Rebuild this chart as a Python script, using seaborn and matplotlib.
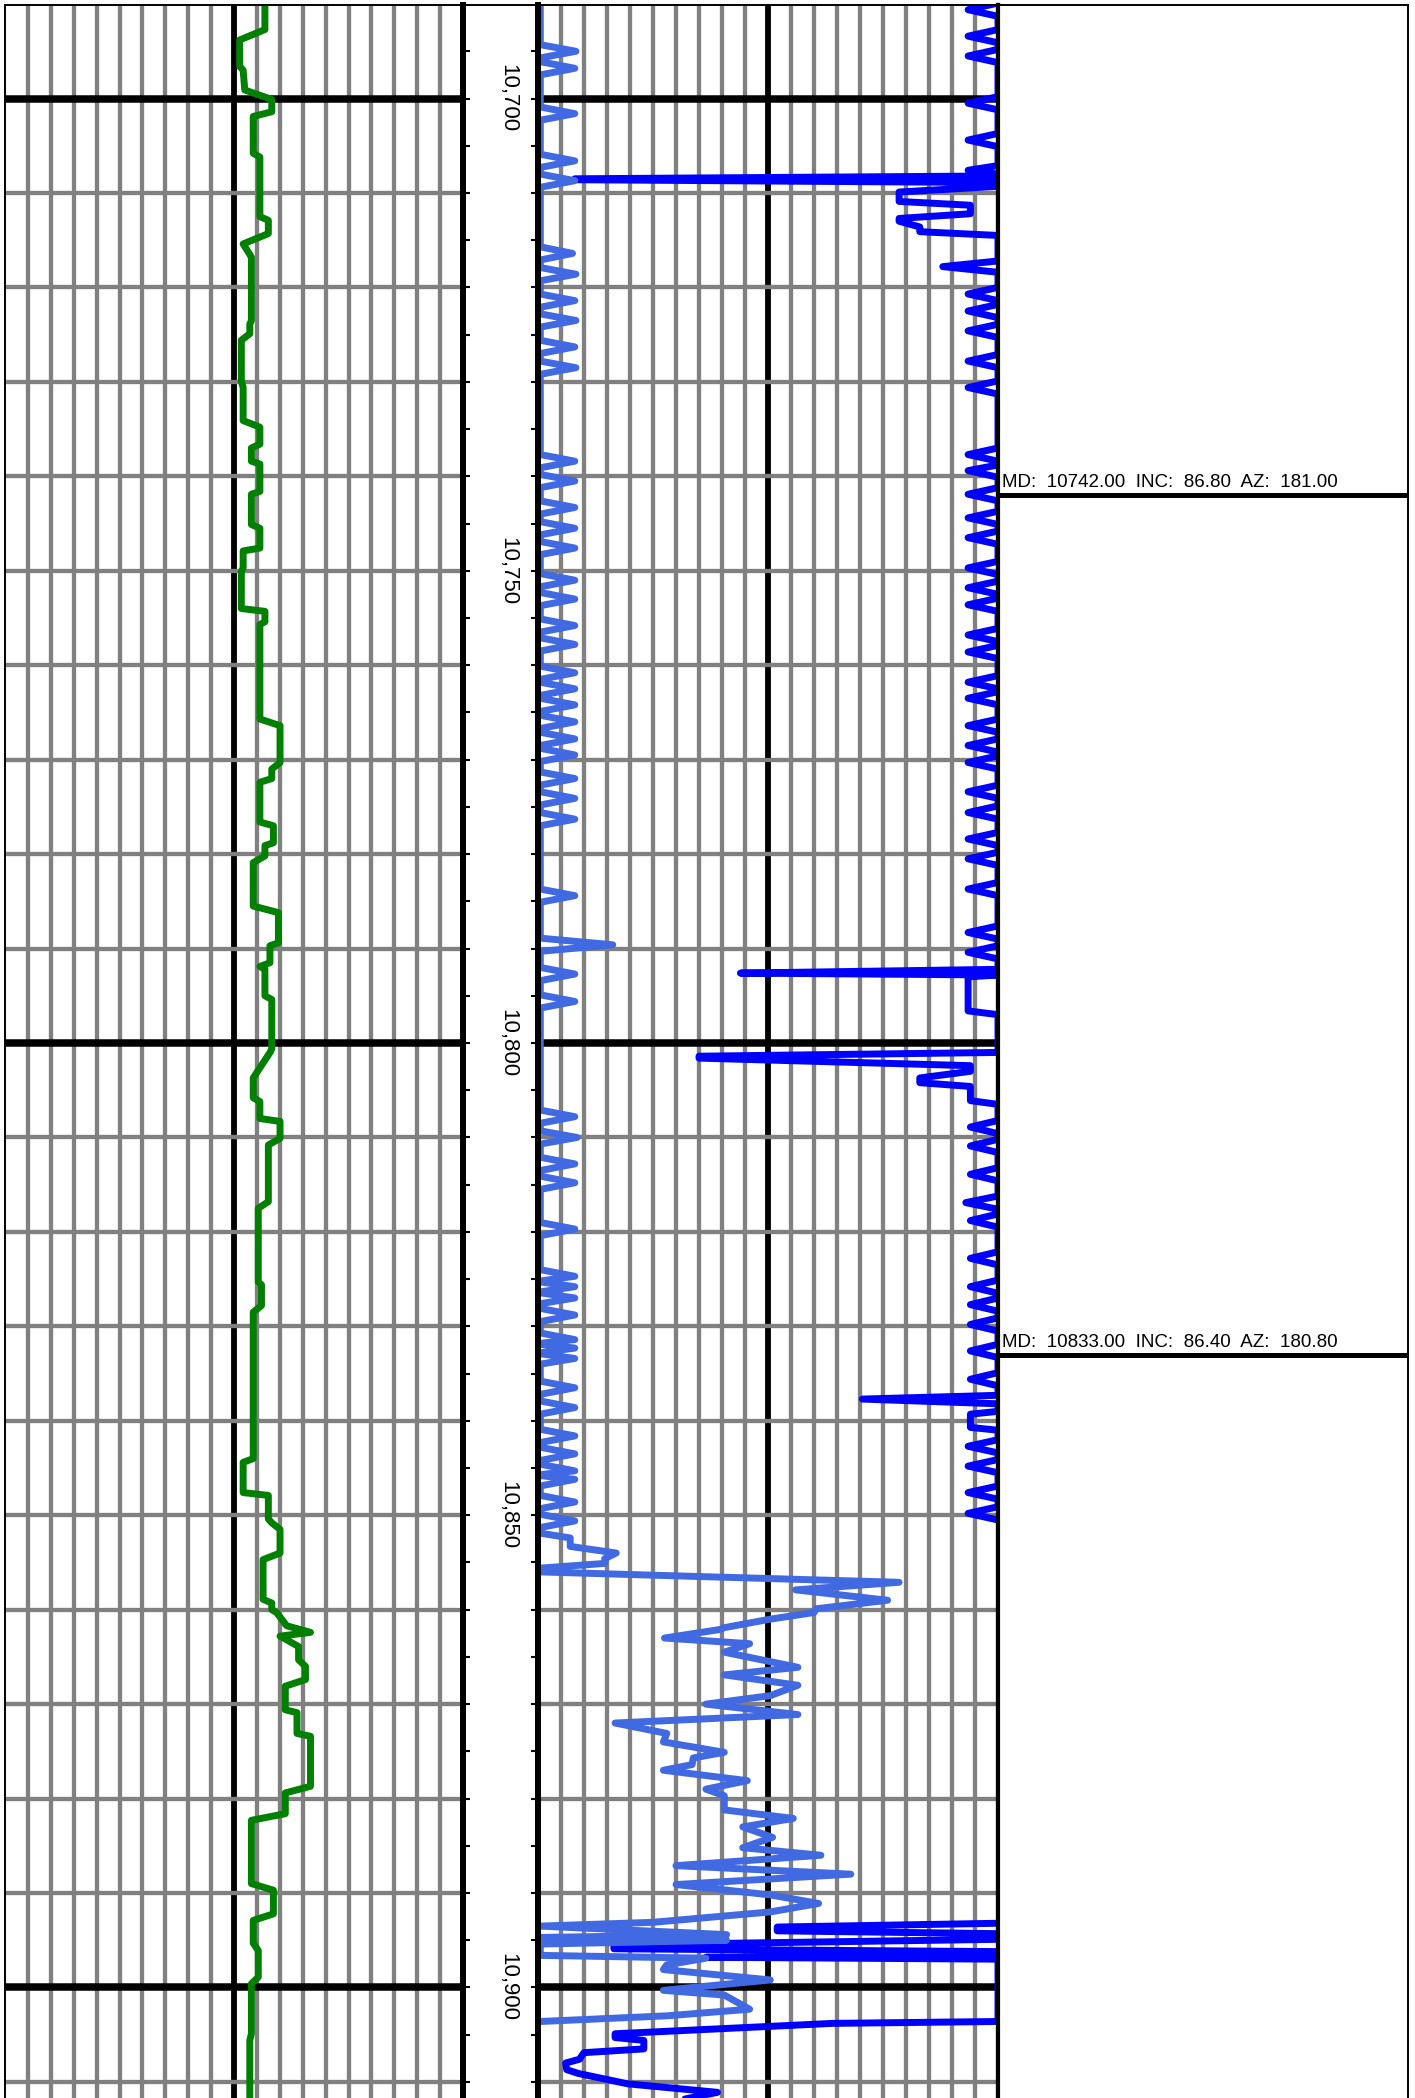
import matplotlib
matplotlib.use("Agg")
import matplotlib.pyplot as plt
import matplotlib.transforms as mtransforms
import numpy as np
import seaborn as sns

# depth window of the sheet (ft, MD)
TOP_MD = 10690.1
BOT_MD = 10911.7

# ---- track 1 : gamma ray (green), 0-200 ----
gr_md = [10689.0, 10692.7, 10693.8, 10696.6, 10697.0, 10699.1, 10700.1, 10701.4, 10701.9, 10705.8,
         10706.2, 10712.5, 10712.9, 10714.3, 10715.4, 10716.8, 10723.5, 10723.9, 10724.9, 10725.6,
         10729.9, 10730.6, 10734.1, 10734.8, 10736.6, 10737.0, 10738.4, 10738.7, 10741.6, 10741.9,
         10745.1, 10745.5, 10747.6, 10747.9, 10749.7, 10750.1, 10754.0, 10754.3, 10755.4, 10755.7,
         10765.7, 10766.4, 10770.3, 10771.0, 10772.0, 10772.4, 10776.6, 10777.0, 10778.8, 10779.1,
         10780.2, 10780.9, 10785.5, 10786.2, 10789.4, 10789.7, 10791.5, 10791.9, 10792.2, 10795.0,
         10795.4, 10800.6, 10800.9, 10803.7, 10805.8, 10806.2, 10808.0, 10808.3, 10810.1, 10810.8,
         10816.8, 10817.5, 10825.3, 10825.6, 10827.8, 10828.5, 10844.0, 10844.4, 10847.6, 10847.9,
         10850.4, 10850.8, 10851.5, 10854.0, 10854.7, 10858.9, 10859.3, 10860.0, 10860.3, 10861.7,
         10862.4, 10862.8, 10863.9, 10865.3, 10866.0, 10867.4, 10868.1, 10870.6, 10870.9, 10873.1,
         10873.4, 10878.7, 10879.4, 10881.6, 10882.3, 10889.0, 10889.7, 10892.2, 10892.9, 10895.3,
         10896.1, 10898.9, 10899.6, 10904.9, 10905.6, 10912.0]
gr_val = [113.5, 113.5, 102.5, 102.5, 104.0, 104.7, 116.5, 116.5, 108.4, 108.4,
          111.3, 111.3, 115.0, 115.0, 104.0, 107.6, 107.6, 106.9, 106.9, 103.2,
          103.2, 104.0, 104.0, 111.3, 111.3, 107.6, 107.6, 111.3, 111.3, 107.6,
          107.6, 111.3, 111.3, 104.0, 104.0, 103.2, 103.2, 113.5, 113.5, 111.3,
          111.3, 120.1, 120.1, 116.5, 116.5, 111.3, 111.3, 117.2, 117.2, 113.5,
          113.5, 108.4, 108.4, 119.4, 119.4, 115.7, 115.7, 111.3, 113.5, 113.5,
          116.5, 116.5, 116.0, 108.4, 108.4, 111.3, 111.3, 120.1, 120.1, 115.0,
          115.0, 110.6, 110.6, 112.0, 112.0, 108.4, 108.4, 104.0, 104.0, 115.0,
          115.0, 116.5, 120.1, 120.1, 112.7, 112.7, 116.5, 116.5, 118.6, 123.0,
          133.4, 120.1, 128.2, 128.2, 131.2, 131.2, 122.4, 122.4, 127.5, 127.5,
          133.4, 133.4, 122.4, 122.4, 107.6, 107.6, 117.2, 117.2, 108.4, 108.4,
          110.6, 110.6, 107.6, 107.6, 106.9, 106.9]

# ---- track 2 : shallow curve (royal blue), 0-20 ----
rs_md = [10689.0,
         10694.3, 10695.0, 10695.7,  10696.1, 10696.8, 10697.5,  10700.9, 10701.6, 10702.3,
         10705.9, 10706.6, 10707.3,  10708.0, 10708.7, 10709.4,
         10715.7, 10716.4, 10717.1,  10717.9, 10718.6, 10719.3,  10720.7, 10721.4, 10722.1,
         10722.8, 10723.5, 10724.2,  10725.6, 10726.3, 10727.0,
         10727.8, 10728.5, 10729.2,  10737.7, 10738.4, 10739.1,  10739.8, 10740.5, 10741.2,
         10742.6, 10743.3, 10744.0,  10744.8, 10745.5, 10746.2,
         10746.9, 10747.6, 10748.3,  10750.3, 10751.0, 10751.7,  10752.3, 10753.0, 10753.7,
         10755.1, 10755.8, 10756.5,  10757.1, 10757.8, 10758.5,
         10760.1, 10760.8, 10761.5,  10761.8, 10762.5, 10763.2,  10763.5, 10764.2, 10764.9,
         10765.3, 10766.0, 10766.7,  10767.1, 10767.8, 10768.5,
         10768.8, 10769.5, 10770.2,  10771.3, 10772.0, 10772.7,  10773.4, 10774.1, 10774.8,
         10775.6, 10776.3, 10777.0,  10783.7, 10784.4, 10785.1,
         10788.9, 10789.6, 10790.3,  10792.0, 10792.7, 10793.4,  10794.9, 10795.6, 10796.3,
         10807.1, 10807.8, 10808.5,  10809.3, 10810.0, 10810.7,
         10812.1, 10812.8, 10813.5,  10814.1, 10814.8, 10815.5,  10819.0, 10819.7, 10820.4,
         10824.0, 10824.7, 10825.2,  10825.3, 10825.8, 10826.35,
         10826.45, 10827.0, 10827.6,  10828.1, 10828.8, 10829.5,  10830.7, 10831.4, 10831.8,
         10831.9, 10832.3, 10832.8,  10832.9, 10833.4, 10834.0,
         10835.8, 10836.5, 10837.2,  10837.9, 10838.6, 10839.3,  10840.9, 10841.6, 10842.3,
         10842.8, 10843.5, 10844.2,  10844.6, 10845.3, 10845.7,
         10845.8, 10846.2, 10846.9,  10847.9, 10848.6, 10849.3,  10849.9, 10850.6, 10851.3,
         10851.9, 10852.4, 10853.3, 10854.0, 10854.6, 10855.1, 10855.6, 10856.0, 10857.1, 10857.9,
         10859.0, 10859.9, 10860.3, 10861.0, 10861.9, 10862.1, 10863.0, 10863.6, 10864.5, 10866.1,
         10866.9, 10868.0, 10869.1, 10870.0, 10871.1, 10872.0, 10873.1, 10874.0, 10875.1, 10875.7,
         10876.4, 10877.0, 10878.1, 10879.0, 10879.7, 10881.2, 10882.1, 10883.0, 10884.1, 10885.2,
         10886.0, 10887.1, 10888.0, 10889.1, 10890.2, 10891.1, 10892.0, 10893.1, 10893.5, 10894.4,
         10894.7, 10895.0, 10895.4, 10896.6, 10896.9, 10897.6, 10898.1, 10899.2, 10900.3, 10900.8,
         10902.3, 10903.0, 10903.6]
rs_val = [0.1,
          0.1, 1.65, 0.1,  0.1, 1.6, 0.1,  0.1, 1.6, 0.1,
          0.1, 1.6, 0.1,  0.1, 1.6, 0.1,
          0.1, 1.5, 0.1,  0.1, 1.65, 0.1,  0.1, 1.6, 0.1,
          0.1, 1.65, 0.1,  0.1, 1.6, 0.1,
          0.1, 1.65, 0.1,  0.1, 1.6, 0.1,  0.1, 1.6, 0.1,
          0.1, 1.6, 0.1,  0.1, 1.6, 0.1,
          0.1, 1.6, 0.1,  0.1, 1.6, 0.1,  0.1, 1.6, 0.1,
          0.1, 1.6, 0.1,  0.1, 1.6, 0.1,
          0.1, 1.6, 0.1,  0.1, 1.6, 0.1,  0.1, 1.6, 0.1,
          0.1, 1.6, 0.1,  0.1, 1.6, 0.1,
          0.1, 1.6, 0.1,  0.1, 1.6, 0.1,  0.1, 1.6, 0.1,
          0.1, 1.6, 0.1,  0.1, 1.6, 0.1,
          0.1, 3.25, 0.1,  0.1, 1.6, 0.1,  0.1, 1.6, 0.1,
          0.1, 1.6, 0.1,  0.1, 1.7, 0.1,
          0.1, 1.6, 0.1,  0.1, 1.6, 0.1,  0.1, 1.6, 0.1,
          0.1, 1.6, 0.1,  0.1, 1.6, 0.1,
          0.1, 1.6, 0.1,  0.1, 1.6, 0.1,  0.1, 1.6, 0.1,
          0.1, 1.6, 0.1,  0.1, 1.6, 0.1,
          0.1, 1.6, 0.1,  0.1, 1.6, 0.1,  0.1, 1.6, 0.1,
          0.1, 1.6, 0.1,  0.1, 1.6, 0.1,
          0.1, 1.6, 0.1,  0.1, 1.6, 0.1,  0.1, 1.6, 0.1,
          0.1, 1.4, 1.4, 3.4, 2.9, 2.9, 0.1, 0.1, 15.7, 11.2,
          15.2, 12.1, 12.0, 10.1, 8.1, 7.9, 5.5, 9.2, 8.1, 11.3,
          8.1, 11.3, 10.1, 7.3, 11.3, 3.35, 5.6, 5.45, 8.1, 6.75,
          6.7, 5.45, 9.1, 7.3, 8.1, 8.1, 11.1, 8.9, 10.2, 8.9,
          12.3, 6.0, 13.6, 6.0, 10.1, 12.2, 10.1, 5.0, 0.1, 8.2,
          0.1, 8.2, 0.1, 0.1, 7.3, 5.6, 5.45, 10.1, 5.45, 8.1,
          9.2, 5.6, 0.1]

# ---- track 2 : deep curve (blue), upper run ----
rd1_md = [10689.0,
          10689.9, 10690.6, 10691.3,  10692.7, 10693.4, 10694.1,  10694.8, 10695.5, 10696.2,
          10699.8, 10700.5, 10701.2,  10703.7, 10704.4, 10705.1,  10707.1, 10707.6, 10708.0,
          10708.2, 10708.5, 10708.6, 10708.9,
          10709.3, 10709.9, 10710.9, 10711.3, 10712.2, 10712.7, 10713.0, 10713.6, 10714.1, 10714.5,
          10717.2, 10717.8, 10718.4,
          10720.0, 10720.7, 10721.4,  10721.8, 10722.5, 10723.2,  10723.9, 10724.6, 10725.3,
          10727.1, 10727.8, 10728.5,  10729.9, 10730.6, 10731.3,  10737.0, 10737.7, 10738.4,
          10738.8, 10739.4, 10740.1,  10741.2, 10741.9, 10742.6,  10743.7, 10744.4, 10745.1,
          10745.8, 10746.5, 10747.2,  10749.0, 10749.7, 10750.4,  10751.1, 10751.8, 10752.5,
          10752.9, 10753.6, 10754.3,  10756.1, 10756.8, 10757.5,  10757.9, 10758.6, 10759.3,
          10761.1, 10761.8, 10762.5,  10762.8, 10763.5, 10764.2,  10765.7, 10766.4, 10767.1,
          10767.8, 10768.5, 10769.2,  10769.6, 10770.3, 10771.0,  10772.7, 10773.4, 10774.1,
          10774.9, 10775.6, 10776.3,  10777.7, 10778.4, 10779.1,  10779.8, 10780.5, 10781.2,
          10783.0, 10783.7, 10784.4,  10787.6, 10788.3, 10789.0,  10789.7, 10790.4, 10791.1,
          10792.2, 10792.6, 10792.8, 10793.0, 10796.6, 10797.0,
          10801.0, 10801.4, 10801.6, 10802.4, 10803.0, 10803.7, 10804.2, 10804.6, 10806.1, 10806.5,
          10808.2, 10808.9, 10809.6,  10810.2, 10810.9, 10811.6,  10813.2, 10813.9, 10814.6,
          10816.2, 10816.9, 10817.6,  10818.1, 10818.8, 10819.5,  10822.1, 10822.8, 10823.5,
          10825.1, 10825.8, 10826.5,  10827.0, 10827.7, 10828.4,  10829.1, 10829.8, 10830.5,
          10831.9, 10832.6, 10833.3,  10834.9, 10835.6, 10836.3,
          10837.3, 10837.7, 10838.2,
          10839.0, 10839.3, 10840.7, 10841.0,
          10842.0, 10842.7, 10843.4,  10844.1, 10844.8, 10845.5,  10846.9, 10847.6, 10848.3,
          10849.1, 10849.8, 10850.5]
rd1_val = [20,
           20, 18.7, 20,  20, 18.7, 20,  20, 18.7, 20,
           20, 18.7, 20,  20, 18.7, 20,  20, 18.7, 20,
           20, 1.6, 1.6, 20,
           20, 15.7, 15.7, 18.8, 18.8, 15.7, 15.7, 16.6, 16.6, 20,
           20, 17.6, 20,
           20, 18.7, 20,  20, 18.7, 20,  20, 18.7, 20,
           20, 18.7, 20,  20, 18.7, 20,  20, 18.7, 20,
           20, 18.7, 20,  20, 18.7, 20,  20, 18.7, 20,
           20, 18.7, 20,  20, 18.7, 20,  20, 18.7, 20,
           20, 18.7, 20,  20, 18.7, 20,  20, 18.7, 20,
           20, 18.7, 20,  20, 18.7, 20,  20, 18.7, 20,
           20, 18.7, 20,  20, 18.7, 20,  20, 18.7, 20,
           20, 18.7, 20,  20, 18.7, 20,  20, 18.7, 20,
           20, 18.7, 20,  20, 18.7, 20,  20, 18.7, 20,
           20, 8.8, 20, 18.7, 18.7, 20,
           20, 7.0, 7.0, 18.8, 18.8, 16.6, 16.6, 18.8, 18.8, 20,
           20, 18.8, 20,  20, 18.8, 20,  20, 18.8, 20,
           20, 18.6, 20,  20, 18.8, 20,  20, 18.8, 20,
           20, 18.8, 20,  20, 18.8, 20,  20, 18.8, 20,
           20, 18.8, 20,  20, 18.8, 20,
           20, 14.1, 20,
           20, 18.8, 18.8, 20,
           20, 18.7, 20,  20, 18.7, 20,  20, 18.7, 20,
           20, 18.7, 20]

# ---- track 2 : deep curve (blue), lower run ----
rd2_md = [10893.2, 10893.6, 10894.0, 10894.3, 10894.9, 10895.5, 10895.9, 10896.2, 10896.5, 10896.8,
          10897.0, 10903.6, 10903.8, 10904.9, 10905.3, 10905.6, 10906.5, 10906.9, 10907.6, 10908.0,
          10908.7, 10909.1, 10910.2, 10911.1, 10912.0]
rd2_val = [20, 10.4, 10.4, 20, 20, 3.3, 3.3, 20, 20, 7.3,
           20, 20, 12.8, 3.35, 3.35, 4.6, 4.6, 2.0, 1.8, 1.2,
           1.25, 1.75, 3.9, 7.8, 6.0]

# depth labels and survey stations
depth_labels = [10700, 10750, 10800, 10850, 10900]
survey_md = [10742.00, 10833.00]
survey_inc = [86.80, 86.40]
survey_az = [181.00, 180.80]

sns.set_style("white")
plt.rcParams["font.family"] = ["Liberation Sans", "DejaVu Sans"]
plt.rcParams["lines.solid_capstyle"] = "round"
plt.rcParams["lines.solid_joinstyle"] = "round"

W, H = 1415, 2098
fig = plt.figure(figsize=(W / 100, H / 100), dpi=100)
top = 2093 / H
ax_gr = fig.add_axes([5 / W, 0, 458 / W, top])
ax_dp = fig.add_axes([463 / W, 0, 75 / W, top])
ax_rs = fig.add_axes([538 / W, 0, 460 / W, top])
ax_an = fig.add_axes([998 / W, 0, 410 / W, top])

GRAY = "#808080"
LW = 5.0


def draw_grid(ax, xmax, step, mid):
    for x in np.arange(step, xmax, step):
        if abs(x - mid) < 1e-6:
            ax.axvline(x, color="black", lw=4.2, zorder=1)
        else:
            ax.axvline(x, color=GRAY, lw=3.1, zorder=1)
    for d in range(10700, 10911, 10):
        if d % 100 == 0:
            ax.axhline(d, color="black", lw=5.4, zorder=1.2)
        else:
            ax.axhline(d, color=GRAY, lw=3.1, zorder=1.1)


# track 1
draw_grid(ax_gr, 200, 10, 100)
sns.lineplot(x=gr_val, y=gr_md, sort=False, estimator=None, orient="y",
             color="#008000", linewidth=LW, ax=ax_gr, zorder=3)
ax_gr.set_xlim(0, 200)

# track 2
draw_grid(ax_rs, 20, 1, 10)
sns.lineplot(x=rd1_val, y=rd1_md, sort=False, estimator=None, orient="y",
             color="#0000FF", linewidth=LW, ax=ax_rs, zorder=3)
sns.lineplot(x=rd2_val, y=rd2_md, sort=False, estimator=None, orient="y",
             color="#0000FF", linewidth=LW, ax=ax_rs, zorder=3)
sns.lineplot(x=rs_val, y=rs_md, sort=False, estimator=None, orient="y",
             color="#4169E1", linewidth=LW, ax=ax_rs, zorder=3.1)
ax_rs.set_xlim(0, 20)

# depth track
ax_dp.set_xlim(0, 1)
ax_dp.set_yticks(np.arange(10690, 10915, 5))
ax_dp.tick_params(axis="y", which="both", direction="in", left=True, right=True,
                  length=5, width=1.5, color="black", labelleft=False, labelright=False)
ax_dp.set_xticks([])
trans = mtransforms.blended_transform_factory(ax_dp.transAxes, ax_dp.transData)
for d in depth_labels:
    ax_dp.text(0.6, d, f"{d:,}", transform=trans, rotation=270,
               ha="center", va="center", fontsize=16, color="black")

# annotation track
ax_an.set_xlim(0, 1)
trans_an = mtransforms.blended_transform_factory(ax_an.transAxes, ax_an.transData)
for md, inc, az in zip(survey_md, survey_inc, survey_az):
    ax_an.axhline(md, color="black", lw=3.6)
    ax_an.text(0.009, md - 0.85, f"MD:  {md:.2f}  INC:  {inc:.2f}  AZ:  {az:.2f}",
               transform=trans_an, ha="left", va="baseline", fontsize=13.5, color="black")

for ax in (ax_gr, ax_dp, ax_rs, ax_an):
    ax.set_ylim(BOT_MD, TOP_MD)
    ax.set_xlabel("")
    ax.set_ylabel("")
    ax.spines["bottom"].set_visible(False)
    ax.spines["top"].set_linewidth(1.4)
    for s in ax.spines.values():
        s.set_color("black")
        s.set_zorder(5)
for ax in (ax_gr, ax_rs, ax_an):
    ax.set_xticks([])
    ax.set_yticks([])

ax_gr.spines["left"].set_linewidth(1.4)
ax_gr.spines["right"].set_linewidth(4.3)
ax_dp.spines["left"].set_linewidth(4.3)
ax_dp.spines["right"].set_linewidth(4.3)
ax_rs.spines["left"].set_linewidth(4.3)
ax_rs.spines["right"].set_linewidth(3.0)
ax_an.spines["left"].set_linewidth(3.0)
ax_an.spines["right"].set_linewidth(1.4)

fig.savefig("out.png", dpi=100)
